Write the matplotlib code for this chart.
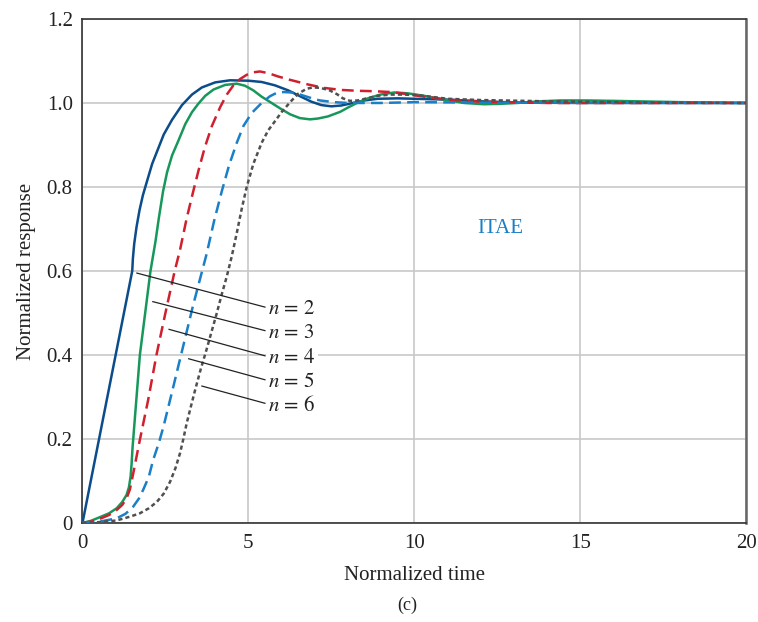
import numpy as np
import matplotlib
matplotlib.use('Agg')
import matplotlib.pyplot as plt

plt.rcParams['font.family'] = ['Liberation Serif', 'DejaVu Serif']
plt.rcParams['mathtext.fontset'] = 'stix'
plt.rcParams['lines.scale_dashes'] = False

# curves (normalized time, normalized response)
t2 = [0, 0.5, 1.0, 1.5, 1.52, 1.56, 1.63, 1.72, 1.82, 1.95, 2.1, 2.25, 2.45, 2.7, 3.0, 3.3,
      3.6, 4.0, 4.45, 5.0, 5.4, 5.8, 6.2, 6.56, 6.9, 7.2, 7.5, 7.8, 8.1, 8.5, 8.9, 9.5, 10,
      11, 12, 13, 15, 20]
y2 = [0, 0.2, 0.4, 0.6, 0.63, 0.665, 0.705, 0.745, 0.78, 0.815, 0.855, 0.885, 0.925, 0.96,
      0.995, 1.02, 1.037, 1.049, 1.054, 1.053, 1.05, 1.042, 1.03, 1.016, 1.003, 0.995,
      0.992, 0.994, 0.999, 1.006, 1.010, 1.011, 1.010, 1.008, 1.004, 1.001, 1.0, 1.0]

t3 = [0, 0.25, 0.53, 0.8, 1.03, 1.2, 1.33, 1.4, 1.45, 1.48, 1.51, 1.55, 1.63, 1.73, 1.89,
      2.05, 2.2, 2.3, 2.43, 2.55, 2.7, 2.89, 3.1, 3.3, 3.49, 3.7, 3.95, 4.3, 4.65, 4.9, 5.15,
      5.4, 5.76, 6.0, 6.26, 6.55, 6.86, 7.1, 7.4, 7.77, 8.0, 8.27, 8.6, 8.98, 9.4, 9.8,
      10.3, 10.9, 11.5, 12.1, 12.6, 13.1, 13.8, 14.4, 15.2, 16, 18, 20]
y3 = [0, 0.005, 0.014, 0.023, 0.035, 0.05, 0.067, 0.085, 0.11, 0.14, 0.18, 0.22, 0.30,
      0.40, 0.50, 0.60, 0.67, 0.725, 0.79, 0.835, 0.875, 0.91, 0.95, 0.978, 0.998, 1.017,
      1.032, 1.043, 1.046, 1.041, 1.030, 1.015, 0.997, 0.985, 0.973, 0.964, 0.961, 0.963,
      0.968, 0.979, 0.989, 1.0, 1.011, 1.02, 1.025, 1.023, 1.017, 1.008, 1.0, 0.997,
      0.998, 1.0, 1.004, 1.006, 1.006, 1.005, 1.002, 1.0]

t4 = [0, 0.3, 0.53, 0.8, 1.03, 1.2, 1.33, 1.43, 1.53, 1.63, 1.73, 1.98, 2.23, 2.5, 2.78,
      2.94, 3.14, 3.34, 3.5, 3.69, 3.9, 4.15, 4.35, 4.55, 4.75, 4.95, 5.15, 5.35, 5.6, 5.9,
      6.26, 6.8, 7.27, 7.8, 8.3, 8.78, 9.3, 9.7, 10.2, 11, 12, 14, 20]
y4 = [0, 0.004, 0.01, 0.019, 0.031, 0.043, 0.059, 0.08, 0.118, 0.158, 0.198, 0.293, 0.40,
      0.50, 0.60, 0.65, 0.725, 0.79, 0.84, 0.895, 0.945, 0.99, 1.02, 1.042, 1.057, 1.067,
      1.073, 1.075, 1.071, 1.063, 1.055, 1.044, 1.036, 1.031, 1.029, 1.028, 1.026, 1.022,
      1.016, 1.008, 1.003, 1.0, 1.0]

t5 = [0, 0.5, 1.03, 1.3, 1.53, 1.7, 1.83, 2.0, 2.13, 2.3, 2.44, 2.6, 2.74, 2.94, 3.14,
      3.34, 3.54, 3.74, 3.97, 4.2, 4.42, 4.65, 4.85, 5.1, 5.4, 5.65, 5.85, 6.06, 6.3, 6.56,
      6.76, 7.0, 7.16, 7.57, 8.0, 9, 10, 12, 20]
y5 = [0, 0.003, 0.011, 0.022, 0.039, 0.058, 0.079, 0.11, 0.15, 0.19, 0.229, 0.28, 0.325,
      0.39, 0.455, 0.52, 0.58, 0.64, 0.72, 0.79, 0.852, 0.905, 0.945, 0.976, 1.0, 1.016,
      1.024, 1.026, 1.025, 1.02, 1.015, 1.009, 1.006, 1.002, 1.0, 1.0, 1.002, 1.001, 1.0]

t6 = [0, 0.5, 1.03, 1.43, 1.73, 2.0, 2.24, 2.45, 2.64, 2.8, 2.94, 3.04, 3.14, 3.26, 3.39,
      3.56, 3.74, 3.9, 4.05, 4.2, 4.35, 4.5, 4.65, 4.8, 4.95, 5.15, 5.4, 5.6, 5.76, 6.0,
      6.26, 6.5, 6.76, 6.95, 7.17, 7.45, 7.67, 7.85, 8.06, 8.3, 8.57, 8.9, 9.28, 9.7,
      10.18, 11, 12, 14, 17, 20]
y6 = [0, 0.002, 0.006, 0.015, 0.023, 0.035, 0.05, 0.07, 0.098, 0.13, 0.166, 0.2, 0.237,
      0.275, 0.315, 0.365, 0.413, 0.458, 0.50, 0.545, 0.587, 0.635, 0.69, 0.748, 0.80,
      0.855, 0.905, 0.935, 0.952, 0.978, 1.002, 1.022, 1.034, 1.037, 1.036, 1.03, 1.021,
      1.011, 1.005, 1.006, 1.011, 1.017, 1.02, 1.02, 1.018, 1.01, 1.007, 1.004, 1.001, 1.0]

labels = [r'$n\,=\,2$', r'$n\,=\,3$', r'$n\,=\,4$', r'$n\,=\,5$', r'$n\,=\,6$']
lead_start_x = [1.64, 2.12, 2.61, 3.20, 3.60]
lead_start_y = [0.595, 0.527, 0.461, 0.391, 0.326]
lead_end_y = [0.514, 0.458, 0.398, 0.341, 0.285]

fig = plt.figure(figsize=(7.58, 6.22), dpi=100)
ax = fig.add_axes([0.1088, 0.1592, 0.8754, 0.8103])

lw = 1.8
ax.plot(t2, y2, color='#0b4c8a', lw=lw, zorder=3)
ax.plot(t3, y3, color='#17985a', lw=lw, zorder=3)
ax.plot(t4, y4, color='#d0202e', lw=lw, dashes=(8.5, 4.5), zorder=4)
ax.plot(t5, y5, color='#1a7fc7', lw=lw, dashes=(8.5, 4.5), zorder=4)
ax.plot(t6, y6, color='#505050', lw=lw, dashes=(3, 2.2), zorder=5)

# leader lines + labels
for i in range(5):
    ax.plot([lead_start_x[i], 5.5], [lead_start_y[i], lead_end_y[i]],
            color='#222222', lw=0.9, zorder=6)
    ax.text(5.6, lead_end_y[i] - 0.006, labels[i], fontsize=15, va='center', ha='left',
            color='#222222', zorder=7,
            bbox=dict(fc='white', ec='none', pad=1.5))

ax.text(12.6, 0.70, 'ITAE', fontsize=15, color='#1a7fc7', ha='center', va='center')

ax.set_xlim(0, 20)
ax.set_ylim(0, 1.2)
ax.set_xticks([0, 5, 10, 15, 20])
ax.set_yticks([0, 0.2, 0.4, 0.6, 0.8, 1.0, 1.2])
ax.set_yticklabels(['0', '0.2', '0.4', '0.6', '0.8', '1.0', '1.2'])
ax.grid(True, color='#c8c8c8', lw=1.2, zorder=0)
ax.set_axisbelow(True)
ax.tick_params(length=0, labelsize=15, colors='#222222')
ax.tick_params(axis='y', pad=7)
ax.tick_params(axis='x', pad=8)

for s in ['left', 'bottom', 'top']:
    ax.spines[s].set_color('#333333')
    ax.spines[s].set_linewidth(1.2)
ax.spines['right'].set_color('#666666')
ax.spines['right'].set_linewidth(1.8)

ax.set_xlabel('Normalized time', fontsize=15, labelpad=9, color='#222222')
ax.set_ylabel('Normalized response', fontsize=15, labelpad=8, color='#222222')

fig.text(0.537, 0.027, '(c)', fontsize=13, ha='center', va='center', color='#222222')

plt.savefig('out.png', dpi=100)
